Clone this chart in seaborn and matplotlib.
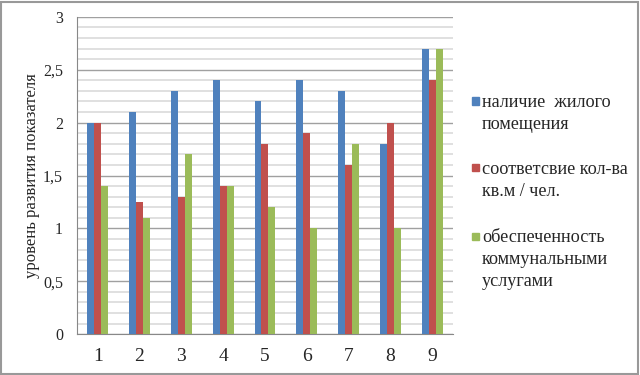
import matplotlib
matplotlib.use('Agg')
import matplotlib.pyplot as plt
import matplotlib.patches as mpatches
from matplotlib.ticker import MultipleLocator, FuncFormatter
import seaborn as sns
import pandas as pd

regions = ['1', '2', '3', '4', '5', '6', '7', '8', '9']
series = ['наличие  жилого\nпомещения',
          'соответсвие кол-ва\nкв.м / чел.',
          'обеспеченность\nкоммунальными\nуслугами']
housing = [2.0, 2.1, 2.3, 2.4, 2.2, 2.4, 2.3, 1.8, 2.7]
area = [2.0, 1.25, 1.3, 1.4, 1.8, 1.9, 1.6, 2.0, 2.4]
utilities = [1.4, 1.1, 1.7, 1.4, 1.2, 1.0, 1.8, 1.0, 2.7]
colors = ['#4F81BD', '#C0504D', '#9BBB59']

FONT = 'Liberation Serif'

df = pd.DataFrame({
    'region': regions * 3,
    'value': housing + area + utilities,
    'series': [series[0]] * 9 + [series[1]] * 9 + [series[2]] * 9,
})

sns.set_style('white')
plt.rcParams['font.family'] = [FONT, 'DejaVu Serif']

fig = plt.figure(figsize=(6.4, 3.75), dpi=100)
ax = fig.add_axes([0.120, 0.109, 0.588, 0.846])

sns.barplot(data=df, x='region', y='value', hue='series', order=regions,
            hue_order=series, palette=colors, saturation=1, width=0.5,
            linewidth=0, ax=ax, legend=False, zorder=3)

ax.set_ylim(0, 3)
ax.set_xlim(-0.5, 8.5)
ax.yaxis.set_major_locator(MultipleLocator(0.5))
ax.yaxis.set_minor_locator(MultipleLocator(0.1))
ax.yaxis.set_major_formatter(FuncFormatter(lambda v, p: ('%g' % v).replace('.', ',')))
ax.grid(which='major', axis='y', color='#a0a0a0', linewidth=1.0, zorder=0)
ax.grid(which='minor', axis='y', color='#dadada', linewidth=1.2, zorder=0)
ax.set_axisbelow(True)

for s in ['top', 'right']:
    ax.spines[s].set_visible(False)
ax.spines['left'].set_color('#888888')
ax.spines['bottom'].set_color('#888888')
ax.tick_params(axis='y', which='major', length=4, color='#888888', labelsize=11.5, pad=6)
ax.tick_params(axis='y', which='minor', length=0)
ax.tick_params(axis='x', length=0, labelsize=14, pad=10)
for lab in ax.get_xticklabels() + ax.get_yticklabels():
    lab.set_fontfamily(FONT)

ax.set_xlabel('')
ax.set_ylabel('уровень развития показателя', fontsize=12, labelpad=2, family=FONT)

# легенда: квадрат на уровне первой строки подписи
legend_top = [101, 168, 236]  # центры первой строки, пиксели сверху
for c, label, yp in zip(colors, series, legend_top):
    yf = 1 - yp / 375
    fig.patches.append(mpatches.Rectangle((472 / 640, yf - 3.5 / 375), 7 / 640, 7 / 375,
                                          transform=fig.transFigure, color=c))
    fig.text(482 / 640, yf + 7 / 375, label, fontsize=13.1, va='top', ha='left',
             linespacing=1.38, family=FONT)

# рамка вокруг всей картинки
fig.patches.append(mpatches.Rectangle((0.002, 0.003), 0.995, 0.993,
                                      transform=fig.transFigure, fill=False,
                                      edgecolor='#999999', linewidth=1.5))

fig.savefig('out.png', dpi=100)
